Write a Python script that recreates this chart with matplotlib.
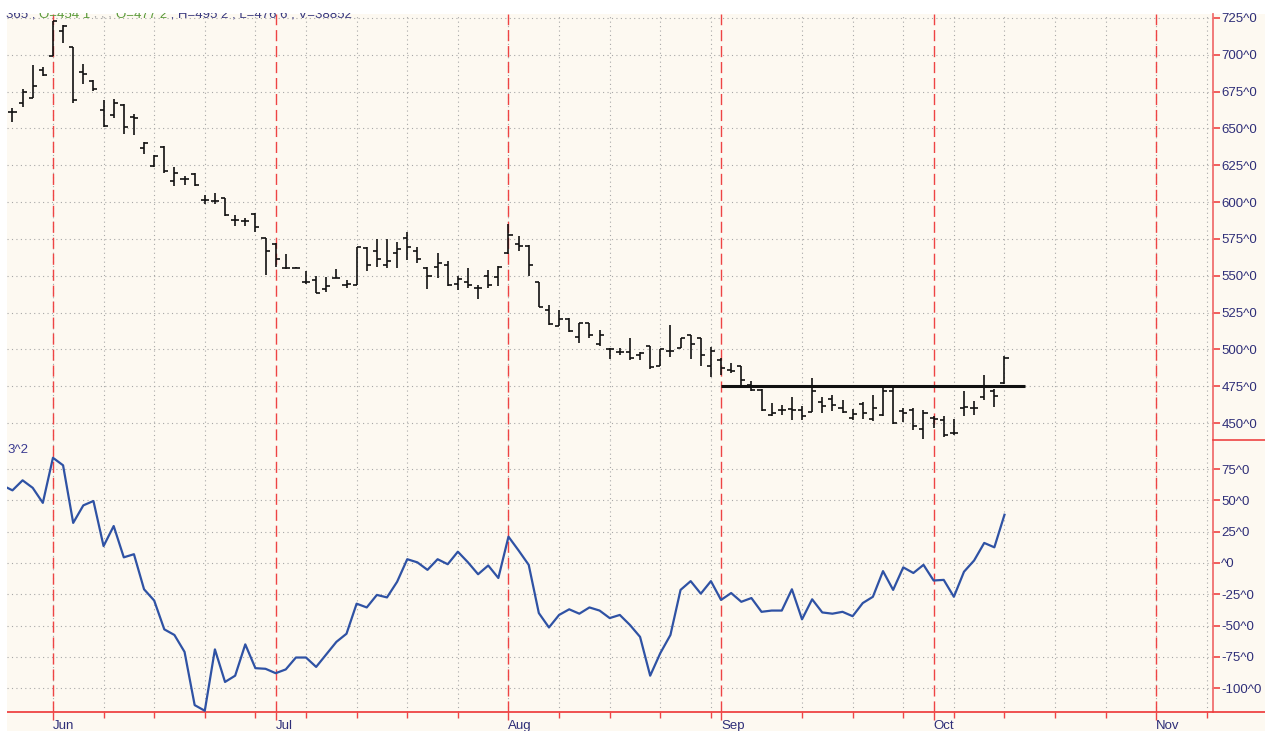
import matplotlib.pyplot as plt
from matplotlib.lines import Line2D
from matplotlib.patches import Rectangle
import numpy as np

# ---- data ----
opens = [661, 667, 671, 690, 699.5, 716, 705, 688, 682, 662.5, 659, 666, 657.5, 637, 624.5,
         637.5, 614, 615.5, 619, 601.5, 601, 602.5, 588, 587, 592, 575.5, 571.5, 555, 555.5,
         546, 547, 541, 548.5, 544, 543.5, 569, 566.5, 557.5, 565.5, 575.5, 567, 555, 556,
         557.5, 544.5, 545.5, 541.5, 549.5, 549, 565.5, 571.5, 570, 546, 527, 516, 520.5,
         508.5, 518, 503.5, 500, 498, 498, 496, 502, 489, 499, 501, 510, 507.5, 488.5, 493,
         486, 488.5, 476, 472.5, 455.5, 459, 459.5, 459, 457.5, 464.5, 466, 460, 453.5, 463,
         452.5, 455.5, 472, 458.5, 459, 446, 453.5, 452, 443.5, 460.5, 460.5, 467.5, 472, 477.25]
highs = [664, 677, 693, 692, 723, 720, 705, 694, 683, 669, 670, 666.5, 660, 640.5, 632,
         638, 624, 617.5, 619.5, 605, 606, 603, 591.5, 589, 592.5, 575.5, 572, 565, 556,
         553.5, 550, 549, 554.5, 547, 569.5, 569.5, 575, 575, 573, 580, 569.5, 556, 565.5,
         560, 549.5, 555.5, 543.5, 554, 556.5, 585, 577, 571, 546, 530, 527, 521,
         518, 518, 513.5, 501, 501, 507.5, 498, 502, 500.5, 516.5, 508, 510, 508, 501.5, 494.5,
         490.5, 488.5, 478.5, 473, 463.5, 462.5, 468, 461.5, 480.5, 468, 469, 465.5, 459.5, 464,
         469, 473.5, 473.5, 460, 460, 459, 454.5, 454.5, 452.5, 471.5, 465, 482.5, 473, 495.25]
lows = [654.5, 664.5, 670.5, 685.5, 699, 708, 667.5, 680.5, 675.5, 651, 657, 646.5, 645.5, 632.5, 624,
        620, 611, 611.5, 611, 598.5, 598.5, 590.5, 583.5, 584, 579.5, 550.5, 556, 554.5, 555,
        544.5, 538, 539, 548.5, 541.5, 543.5, 553.5, 556, 555, 555, 560.5, 558.5, 541, 548.5,
        543, 540.5, 542, 534, 542, 543, 564.5, 567, 550, 528.5, 516.5, 516, 512,
        504.5, 508, 502.5, 493.5, 496, 492.5, 493, 487, 488.5, 495, 501, 493.5, 489, 481.5, 482.5,
        484, 476, 472, 458.5, 455, 455.5, 452, 452, 457.5, 457, 458.5, 457, 452, 453,
        451.5, 454.5, 449.5, 451, 445, 439, 446.5, 440.5, 442, 454.5, 455.5, 465.5, 461, 476.75]
closes = [661, 675, 679, 686, 723, 719.5, 669, 687, 676.5, 652, 667, 651, 657, 640, 631,
          621, 620, 615.5, 611.5, 601.5, 601, 591, 588, 587, 583, 566.5, 561.5, 555.5, 555.5,
          546, 538.5, 543, 548.5, 544.5, 569.5, 557.5, 561.5, 560, 568.5, 569.5, 561.5, 549.5, 559,
          543.5, 548, 543.5, 541.5, 543.5, 556, 577.5, 570, 557.5, 528.5, 517, 520.5, 512.5,
          518, 510, 510, 500, 498, 494.5, 497.5, 488, 500.5, 499, 507.5, 503.5, 496, 499, 487.5,
          485.5, 479, 472.5, 459, 457, 459, 459, 455, 471.5, 461.5, 462.5, 457.5, 456, 456.5,
          460, 472, 450, 456.5, 448, 457, 453, 442, 443, 461, 460.5, 474.5, 468.5, 494.5]

# oscillator, first value belongs to the bar before the first visible one
osc = [62, 58, 66, 60, 48, 84, 78, 32, 46, 49.5, 13.5, 29.5, 4.5, 7, -21, -30, -53, -57.5,
       -71, -113.5, -118, -69, -95, -90, -65, -84, -84.5, -88, -85, -75.5, -75.5, -83, -73,
       -63, -56.5, -32.5, -35.5, -25.5, -27.5, -15, 3, 0.5, -5.5, 3, -1, 9, 0.5, -9, -2, -12,
       21, 10, -1.5, -40, -51.5, -41.5, -37, -40.5, -35.5, -38, -44, -41.5, -49.5, -59, -90,
       -72, -57.5, -21.5, -14.5, -24.5, -14.5, -29.5, -24, -31, -28, -39, -38, -38, -21, -45,
       -29, -39.5, -40.5, -39, -42.5, -32, -27, -6.5, -21.5, -3.5, -8, -1.5, -14, -13.5, -27,
       -7, 2, 16, 12.5, 38.5]

month_idx = [4, 26, 49, 70, 91, 113]
month_labels = ['Jun', 'Jul', 'Aug', 'Sep', 'Oct', 'Nov']
week_idx = [4, 9, 14, 19, 24, 29, 34, 39, 44, 49, 54, 59, 64, 69, 78, 83, 88, 93, 98,
            103, 108, 113, 118]
price_ticks = [450, 475, 500, 525, 550, 575, 600, 625, 650, 675, 700, 725]
osc_ticks = [-100, -75, -50, -25, 0, 25, 50, 75]
level = 475
level_span = [70, 100]
header_parts = [('365 , ', '#3a3a80'), ('O=454 1', '#5a9a3a'), (' , , , ', '#a0a0a0'),
                ('O=477 2', '#5a9a3a'), (' , H=495 2 , L=476 6 , V=38852', '#3a3a80')]

# ---- layout ----
W, H = 1265, 731
BG = '#fdf9f1'
NAVY = '#2e2e78'
RED = '#ee4444'
GRID = '#a8a8a8'
plt.rcParams['font.family'] = ['Liberation Sans', 'DejaVu Sans']

fig = plt.figure(figsize=(W / 100, H / 100), dpi=100, facecolor=BG)


def box(l, t, r, b):
    return [l / W, 1 - b / H, (r - l) / W, (b - t) / H]


fig.add_artist(Rectangle((0, 0), 7.5 / W, 1, transform=fig.transFigure,
                         facecolor='white', edgecolor='none'))

ax1 = fig.add_axes(box(7.5, 14, 1213, 440))
ax2 = fig.add_axes(box(7.5, 440, 1213, 712), sharex=ax1)

x = np.arange(len(opens))
xo = np.arange(-1, len(opens))

for ax in (ax1, ax2):
    ax.set_facecolor(BG)
    for s in ('top', 'left', 'bottom'):
        ax.spines[s].set_visible(False)
    ax.spines['right'].set_color('#f07070')
    ax.spines['right'].set_linewidth(1.3)
    ax.yaxis.tick_right()
    ax.tick_params(axis='y', colors=RED, labelcolor=NAVY, length=5, width=1.2,
                   labelsize=9.5, pad=1)
    for w in week_idx:
        ax.axvline(w, color=GRID, lw=0.8, ls=(0, (1, 3)), zorder=1)
    for m in month_idx:
        ax.axvline(m, color=RED, lw=1.0, ls=(0, (8, 3.5)), zorder=2)

for p in price_ticks:
    ax1.axhline(p, color=GRID, lw=0.8, ls=(0, (1, 3)), zorder=1)
for v in osc_ticks:
    ax2.axhline(v, color=GRID, lw=0.8, ls=(0, (1, 3)), zorder=1)

# OHLC bars
ax1.vlines(x, lows, highs, color='#111111', lw=1.2, zorder=4)
ax1.hlines(opens, x - 0.4, x, color='#111111', lw=1.2, zorder=4)
ax1.hlines(closes, x, x + 0.4, color='#111111', lw=1.2, zorder=4)
ax1.hlines(level, level_span[0], level_span[1], color='#111111', lw=2.2, zorder=5)

ax2.plot(xo, osc, color='#2f52a4', lw=1.6, zorder=4)

ax1.set_xlim(-0.49, 118.6)
ax1.set_ylim(438.5, 727.7)
ax2.set_ylim(-119, 98.2)

ax1.set_yticks(price_ticks)
ax1.set_yticklabels([f'{p}^0' for p in price_ticks])
ax2.set_yticks(osc_ticks)
ax2.set_yticklabels([f'{v}^0' if v else '^0' for v in osc_ticks])

ax1.tick_params(axis='x', bottom=False, labelbottom=False)
ax2.spines['bottom'].set_visible(True)
ax2.spines['bottom'].set_color(RED)
ax2.spines['bottom'].set_linewidth(1.3)
ax2.set_xticks(month_idx)
ax2.set_xticklabels(month_labels)
ax2.set_xticks(week_idx, minor=True)
ax2.tick_params(axis='x', which='major', colors=RED, labelcolor=NAVY, length=6,
                width=1.0, labelsize=9.5, pad=0)
ax2.tick_params(axis='x', which='minor', colors=RED, length=4, width=1.0)
for t in ax2.get_xticklabels():
    t.set_horizontalalignment('left')

# separators outside the plot area
fig.add_artist(Line2D([1213 / W, 1], [1 - 440 / H] * 2, color=RED, lw=1.2))
fig.add_artist(Line2D([1213 / W, 1], [1 - 712 / H] * 2, color=RED, lw=1.3))

ax2.text(0.0, 0.965, '3^2', transform=ax2.transAxes, color='#3a3a90', fontsize=9.5,
         va='center', ha='left')

# header, its upper half hidden under the white strip
xpos = 6
r = fig.canvas.get_renderer()
for s, c in header_parts:
    t = fig.text(xpos / W, 1 - 17.5 / H, s, color=c, fontsize=9.5, va='baseline')
    xpos += t.get_window_extent(r).width
fig.add_artist(Rectangle((0, 1 - 12.5 / H), 1, 12.5 / H, transform=fig.transFigure,
                         facecolor='white', edgecolor='none', zorder=10))
fig.add_artist(Rectangle((0, 1 - 14 / H), 1, 1.5 / H, transform=fig.transFigure,
                         facecolor='white', edgecolor='none', zorder=0))

fig.savefig('out.png', dpi=100, facecolor=BG)
